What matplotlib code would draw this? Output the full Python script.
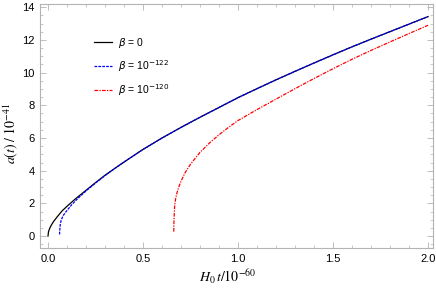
import numpy as np
import matplotlib
matplotlib.use("Agg")
import matplotlib.pyplot as plt
from matplotlib.ticker import MultipleLocator, FormatStrFormatter

# values
t_beta0 = [0.0, 0.003, 0.01, 0.02, 0.03, 0.05, 0.075, 0.1, 0.125, 0.15, 0.2, 0.25, 0.3,
           0.35, 0.4, 0.5, 0.6, 0.7, 0.8, 0.9, 1.0, 1.1, 1.2, 1.3, 1.4, 1.5, 1.6,
           1.7, 1.8, 1.9, 2.0]
a_beta0 = [0.0, 0.28, 0.5, 0.72, 0.9, 1.2, 1.55, 1.82, 2.08, 2.33, 2.8, 3.27, 3.72,
           4.13, 4.53, 5.3, 6.0, 6.65, 7.27, 7.87, 8.47, 9.02, 9.56, 10.08, 10.59, 11.09, 11.58,
           12.05, 12.51, 12.97, 13.43]

t_beta122 = [0.061, 0.0615, 0.063, 0.065, 0.07, 0.08, 0.09, 0.1, 0.125, 0.15, 0.2, 0.25,
             0.3, 0.35, 0.4, 0.5, 0.6, 0.7, 0.8, 0.9, 1.0, 1.1, 1.2, 1.3, 1.4, 1.5, 1.6,
             1.7, 1.8, 1.9, 2.0]
a_beta122 = [0.1, 0.3, 0.5, 0.75, 1.0, 1.25, 1.42, 1.57, 1.92, 2.22, 2.76, 3.24,
             3.7, 4.12, 4.53, 5.3, 6.0, 6.65, 7.27, 7.87, 8.47, 9.02, 9.56, 10.08, 10.59, 11.09, 11.58,
             12.05, 12.51, 12.97, 13.43]

t_beta120 = [0.662, 0.6625, 0.663, 0.665, 0.667, 0.672, 0.68, 0.69, 0.7, 0.72, 0.75,
             0.8, 0.85, 0.9, 0.95, 1.0, 1.1, 1.2, 1.3, 1.4, 1.5, 1.6, 1.7, 1.8, 1.9, 2.0]
a_beta120 = [0.27, 0.75, 1.0, 1.5, 1.9, 2.3, 2.7, 3.05, 3.35, 3.85, 4.4,
             5.12, 5.7, 6.2, 6.65, 7.07, 7.74, 8.38, 9.02, 9.64, 10.24, 10.82, 11.36, 11.88, 12.39, 12.9]

labels = [r'$\beta$ = 0', r'$\beta$ = 10$^{-122}$', r'$\beta$ = 10$^{-120}$']

plt.rcParams['font.family'] = ['Liberation Sans', 'DejaVu Sans']

fig = plt.figure(figsize=(4.36, 2.88), dpi=100)
ax = fig.add_axes([40 / 436, 40 / 288, 393 / 436, 244 / 288])

ax.plot(t_beta0, a_beta0, color='black', lw=0.9, label=labels[0])
ax.plot(t_beta122, a_beta122, color='blue', lw=0.9, ls=(0, (2.2, 0.9)), label=labels[1])
ax.plot(t_beta120, a_beta120, color='red', lw=0.9, ls=(0, (3, 1, 1, 1)), label=labels[2])

ax.set_xlim(-0.042, 2.026)
ax.set_ylim(-0.73, 14.2)

ax.xaxis.set_major_locator(MultipleLocator(0.5))
ax.xaxis.set_minor_locator(MultipleLocator(0.1))
ax.yaxis.set_major_locator(MultipleLocator(2))
ax.yaxis.set_minor_locator(MultipleLocator(0.5))
ax.xaxis.set_major_formatter(FormatStrFormatter('%.1f'))

frame_col = '#b3b3b3'
for s in ax.spines.values():
    s.set_color(frame_col)
    s.set_linewidth(0.8)
ax.tick_params(which='both', direction='in', top=True, right=True,
               color=frame_col, labelsize=8, labelcolor='black')
ax.tick_params(which='major', length=4, width=0.6, pad=4)
ax.tick_params(which='minor', length=2, width=0.5)

ax.set_xlabel(r'$H_0\,t/10^{-60}$', fontsize=10, math_fontfamily='stix')
ax.set_ylabel(r'$a(t)\;/\;10^{-41}$', fontsize=10, math_fontfamily='stix')
ax.xaxis.set_label_coords(0.478, -0.08)
ax.yaxis.set_label_coords(-0.05, 0.47)

leg = ax.legend(loc='upper left', bbox_to_anchor=(0.138, 0.87), frameon=False,
                fontsize=7.5, handlelength=1.7, handletextpad=0.6,
                labelspacing=0.78, borderaxespad=0, borderpad=0)

fig.savefig('out.png', dpi=100)
